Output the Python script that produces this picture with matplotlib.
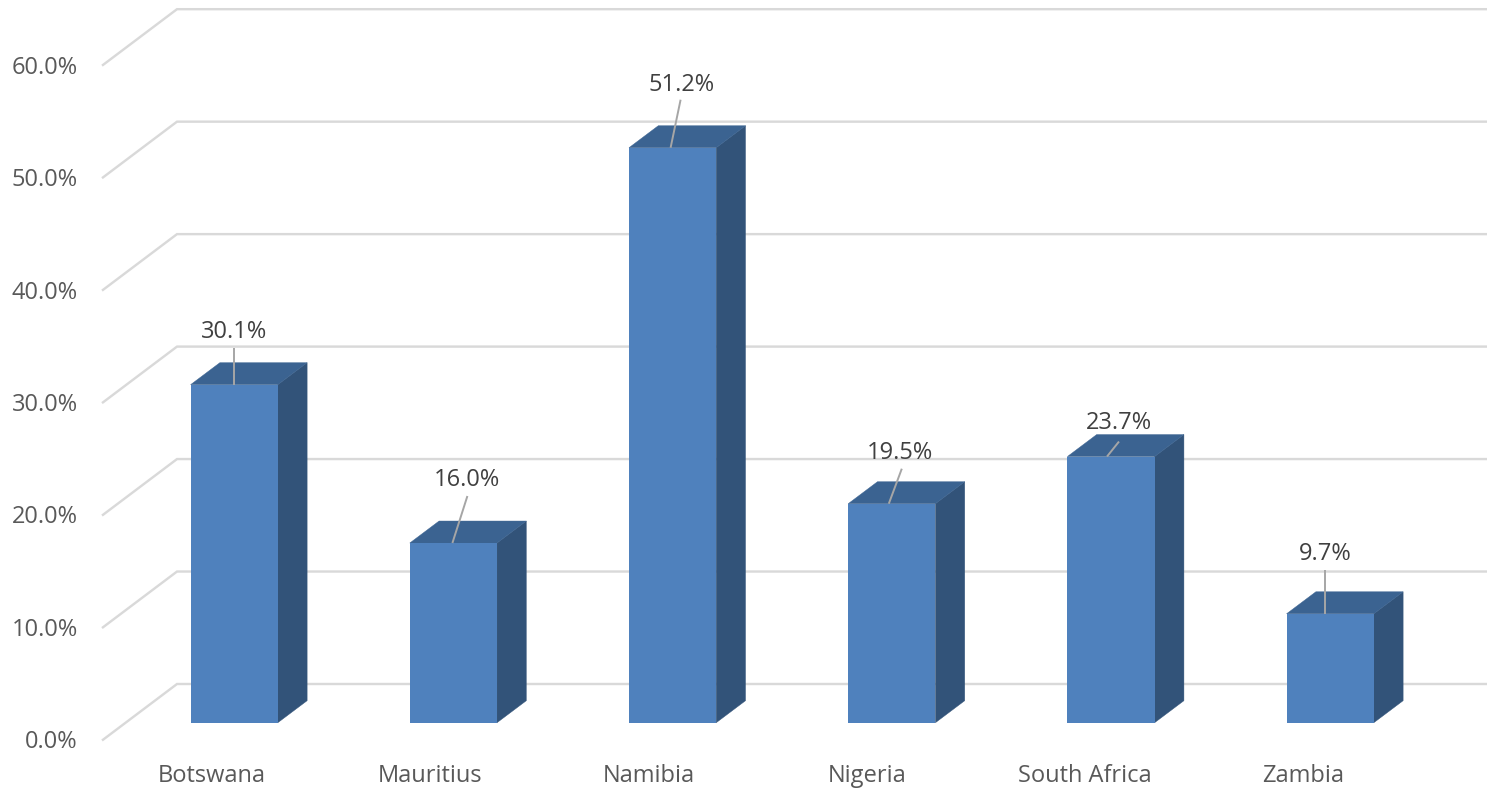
import matplotlib
matplotlib.use("Agg")
import matplotlib.pyplot as plt
from matplotlib.patches import Polygon
from matplotlib.transforms import offset_copy

countries = ["Botswana", "Mauritius", "Namibia", "Nigeria", "South Africa", "Zambia"]
values = [30.1, 16.0, 51.2, 19.5, 23.7, 9.7]
y_ticks = [0, 10, 20, 30, 40, 50, 60]

# layout (pixels of the 1487x788 canvas)
W, H, DPI = 1487, 788, 100
PX_X, PX_Y = 219.2, 11.23
X0_PX, Y0_PX = 234.2, 722.7
BAR_W = 0.398
GRID_SCALE = 1.0015
DEPTH_DX, DEPTH_DY = 29.3 / PX_X, 22 / PX_Y
BACK_L, BACK_UP = (177 - X0_PX) / PX_X, (Y0_PX - 684) / PX_Y
FRONT_L, FRONT_UP = (102 - X0_PX) / PX_X, (Y0_PX - 740.5) / PX_Y
# data-label leader (start dx, end dx, end dy) and text offset relative to bar top centre, px
LEADERS = [(0, 0, 37), (-1, 14, 47), (-2, 8, 48), (-3, 10, 35), (-4, 8, 15), (-5, -5, 44)]
LABEL_OFF = [(0, 56), (14, 66), (9, 66), (8, 54), (8, 37), (-5, 63)]

FRONT, SIDE, TOP = "#4F81BD", "#325379", "#3B6391"
GRID, LEADER = "#D9D9D9", "#A6A6A6"
FS = 17

plt.rcParams["font.family"] = ["Open Sans", "DejaVu Sans"]
fig = plt.figure(figsize=(W / DPI, H / DPI), dpi=DPI)
ax = fig.add_axes([0, 0, 1, 1])
ax.set_xlim(-X0_PX / PX_X, (W - X0_PX) / PX_X)
ax.set_ylim(-(H - Y0_PX) / PX_Y, Y0_PX / PX_Y)
ax.axis("off")

lw = 2.4 * 72 / DPI
for t in y_ticks:
    g = t * GRID_SCALE
    ax.plot([FRONT_L, BACK_L, ax.get_xlim()[1]],
            [g + FRONT_UP, g + BACK_UP, g + BACK_UP],
            color=GRID, lw=lw, zorder=1, solid_joinstyle="miter", solid_capstyle="butt")
    ax.text(FRONT_L, t + FRONT_UP, f"{t:.1f}%", ha="right", va="center_baseline",
            fontsize=FS, color="#595959",
            transform=offset_copy(ax.transData, fig=fig, x=-24, y=1.5, units="dots"))

for i, (name, v) in enumerate(zip(countries, values)):
    l, r = i - BAR_W / 2, i + BAR_W / 2
    ax.add_patch(Polygon([(r, 0), (r + DEPTH_DX, DEPTH_DY), (r + DEPTH_DX, v + DEPTH_DY), (r, v)],
                         fc=SIDE, ec=SIDE, lw=0.3, zorder=2))
    ax.add_patch(Polygon([(l, v), (r, v), (r + DEPTH_DX, v + DEPTH_DY), (l + DEPTH_DX, v + DEPTH_DY)],
                         fc=TOP, ec=TOP, lw=0.3, zorder=2))
    ax.add_patch(Polygon([(l, 0), (r, 0), (r, v), (l, v)], fc=FRONT, ec="none", zorder=3))

    sx, ex, ey = LEADERS[i]
    ax.plot([i + sx / PX_X, i + ex / PX_X], [v, v + ey / PX_Y], color=LEADER, lw=1.4, zorder=4,
            solid_capstyle="butt")
    ox, oy = LABEL_OFF[i]
    ax.text(i + ox / PX_X, v + oy / PX_Y, f"{v:.1f}%", ha="center", va="center_baseline",
            fontsize=FS, color="#404040", zorder=5)
    ax.text(i - 22 / PX_X - i * 1 / PX_X, -(773 - Y0_PX) / PX_Y, name, ha="center", va="center_baseline",
            fontsize=FS, color="#595959", zorder=5)

fig.savefig("out.png", dpi=DPI, facecolor="white")
